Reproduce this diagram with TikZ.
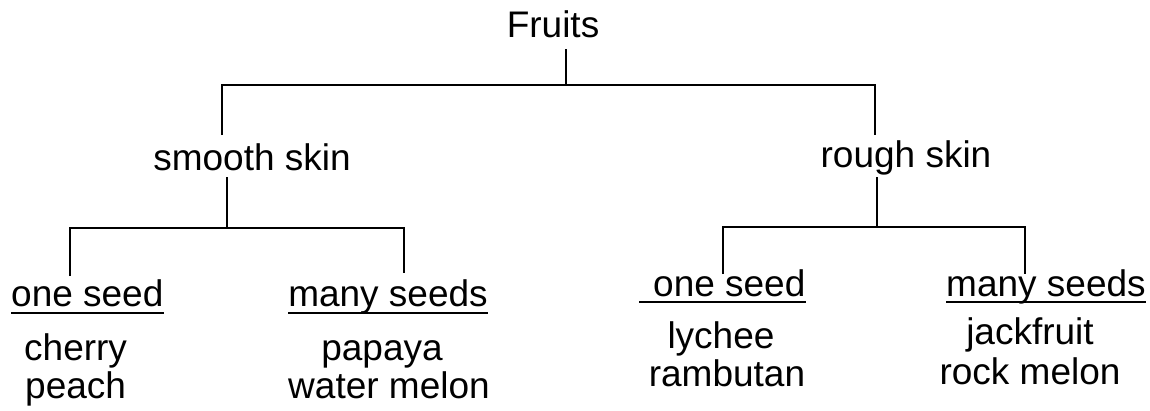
\documentclass[tikz,border=0pt]{standalone}
\usepackage{fontspec}
\setmainfont{Liberation Sans}
\begin{document}
\begin{tikzpicture}[x=1pt,y=-1pt,
  lbl/.style={anchor=base,inner sep=0pt,font=\fontsize{37}{41}\selectfont},
  edge/.style={line width=2.2pt},
  ulline/.style={line width=1.8pt}]
\useasboundingbox (0,0) rectangle (1150,410);
% labels
\node[lbl] (fruits) at (553,37) {Fruits};
\node[lbl] (smooth) at (252,170) {smooth skin};
\node[lbl] (rough) at (906,167) {rough skin};
\node[lbl,anchor=base west] (so) at (11,306) {one seed};
\node[lbl] (sm) at (388,306) {many seeds};
\node[lbl,anchor=base west] (cherry) at (24,360) {cherry};
\node[lbl,anchor=base west] (peach) at (25,398) {peach};
\node[lbl] (papaya) at (382,360) {papaya};
\node[lbl] (water) at (389,398) {water melon};
\node[lbl,anchor=base west] (ro) at (653,296) {one seed};
\node[lbl,anchor=base west] (rm) at (946,296) {many seeds};
\node[lbl] (lychee) at (721,348) {lychee};
\node[lbl] (ramb) at (727,386) {rambutan};
\node[lbl] (jack) at (1030,344) {jackfruit};
\node[lbl] (rock) at (1030,384) {rock melon};
% underlines
\draw[ulline] ([yshift=-7pt]so.base west) -- ([yshift=-7pt]so.base east);
\draw[ulline] ([yshift=-7pt]sm.base west) -- ([yshift=-7pt]sm.base east);
\draw[ulline] ([xshift=-14pt,yshift=-6pt]ro.base west) -- ([yshift=-6pt]ro.base east);
\draw[ulline] ([yshift=-6pt]rm.base west) -- ([yshift=-6pt]rm.base east);
% level 1 connectors
\coordinate (f0) at (566,49);
\coordinate (bus1) at (566,85);
\coordinate (s1) at (222,135);
\coordinate (r1) at (875,135);
\draw[edge] (f0) -- (bus1);
\draw[edge] (s1) |- (bus1) -| (r1);
% level 2 left
\coordinate (s2) at (227,177);
\coordinate (bus2) at (227,228);
\coordinate (so1) at (70,276);
\coordinate (sm1) at (404,273);
\draw[edge] (s2) -- (bus2);
\draw[edge] (so1) |- (bus2) -| (sm1);
% level 2 right
\coordinate (r2) at (877,177);
\coordinate (bus3) at (877,227);
\coordinate (ro1) at (723,274);
\coordinate (rm1) at (1025,274);
\draw[edge] (r2) -- (bus3);
\draw[edge] (ro1) |- (bus3) -| (rm1);
\end{tikzpicture}
\end{document}
